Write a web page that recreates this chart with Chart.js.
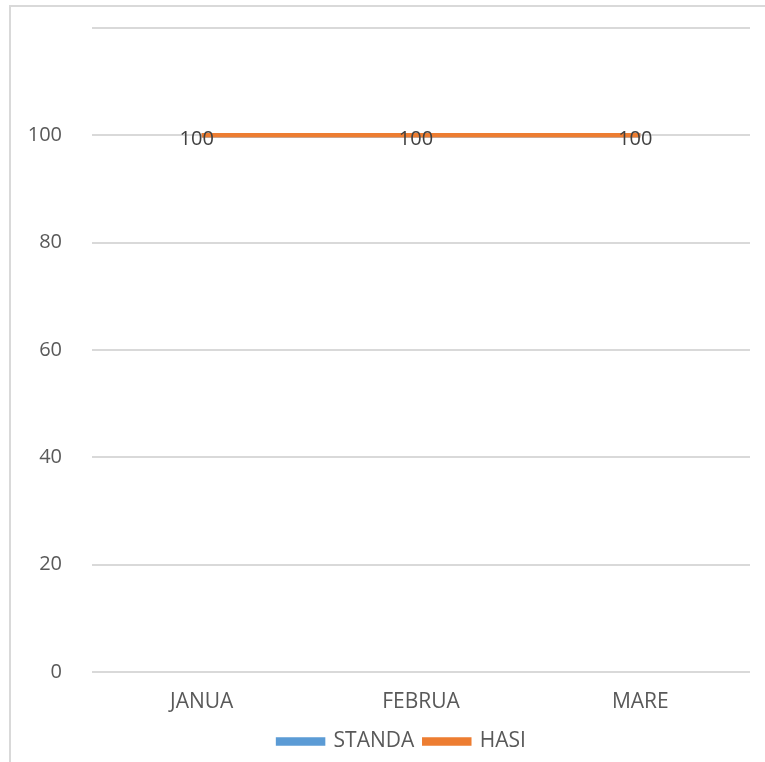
<!DOCTYPE html>
<html>
<head>
<meta charset="utf-8">
<script src="https://cdn.jsdelivr.net/npm/chart.js@4.4.1/dist/chart.umd.min.js"></script>
<style>
  html, body { margin: 0; padding: 0; background: #fff; }
  #frame {
    position: absolute; left: 9px; top: 5px; width: 760px; height: 760px;
    border-left: 2px solid #d9d9d9; border-top: 2px solid #d9d9d9;
  }
  #wrap { position: absolute; left: 0; top: 0; width: 765px; height: 762px; }
</style>
</head>
<body>
<div id="frame"></div>
<div id="wrap"><canvas id="lineChart" width="765" height="762"></canvas></div>
<script>
const months = ['JANUA', 'FEBRUA', 'MARE'];
const standaValues = [100, 100, 100];
const hasiValues = [100, 100, 100];
const yMax = 120;
const yStep = 20;
const yLabelMax = 100;   // top gridline carries no label

const textColor = '#595959';
const fontFamily = '"Open Sans", "Liberation Sans", sans-serif';

// writes the value on each point of the orange series
const valueLabels = {
  id: 'valueLabels',
  afterDatasetsDraw(chart) {
    const ctx = chart.ctx;
    const meta = chart.getDatasetMeta(1);
    ctx.save();
    ctx.font = '20px ' + fontFamily;
    ctx.fillStyle = '#404040';
    ctx.textAlign = 'center';
    ctx.textBaseline = 'middle';
    meta.data.forEach(function(pt, i) {
      ctx.fillText(String(chart.data.datasets[1].data[i]), pt.x - 5, pt.y + 4);
    });
    ctx.restore();
  }
};

// nudge the legend row a bit to the right
const legendShift = {
  id: 'legendShift',
  afterLayout(chart) {
    if (chart.legend) {
      chart.legend.left += 14;
      chart.legend.right += 14;
    }
  }
};

document.addEventListener('DOMContentLoaded', function() {
  const ctx = document.getElementById('lineChart').getContext('2d');
  new Chart(ctx, {
    type: 'line',
    data: {
      labels: months,
      datasets: [{
        label: 'STANDA',
        data: standaValues,
        borderColor: '#5B9BD5',
        backgroundColor: '#5B9BD5',
        borderWidth: 4.5,
        pointRadius: 0,
        order: 1
      }, {
        label: 'HASI',
        data: hasiValues,
        borderColor: '#ED7D31',
        backgroundColor: '#ED7D31',
        borderWidth: 4.5,
        pointRadius: 0,
        order: 0
      }]
    },
    options: {
      responsive: false,
      animation: false,
      layout: { padding: { top: 28, right: 15, left: 26, bottom: 0 } },
      scales: {
        x: {
          offset: true,
          afterFit: function(scale) { scale.height = 49; },
          grid: { display: false },
          border: { display: false },
          ticks: { color: textColor, font: { family: fontFamily, size: 21 }, padding: 9, maxRotation: 0 }
        },
        y: {
          min: 0,
          max: yMax,
          afterFit: function(scale) {
            scale.width = 66;
            scale.paddingTop = 0;
            scale.paddingBottom = 0;
          },
          grid: { color: '#d9d9d9', lineWidth: 2, drawTicks: false },
          border: { display: false },
          ticks: {
            stepSize: yStep,
            padding: 30,
            color: textColor,
            font: { family: fontFamily, size: 20 },
            callback: function(v) { return v > yLabelMax ? '' : v; }
          }
        }
      },
      plugins: {
        legend: {
          position: 'bottom',
          labels: {
            boxWidth: 45,
            boxHeight: 4,
            padding: 10,
            color: textColor,
            font: { family: fontFamily, size: 21 },
            sort: function(a, b) { return a.datasetIndex - b.datasetIndex; }
          }
        },
        tooltip: { enabled: false }
      }
    },
    plugins: [valueLabels, legendShift]
  });
});
</script>
</body>
</html>
